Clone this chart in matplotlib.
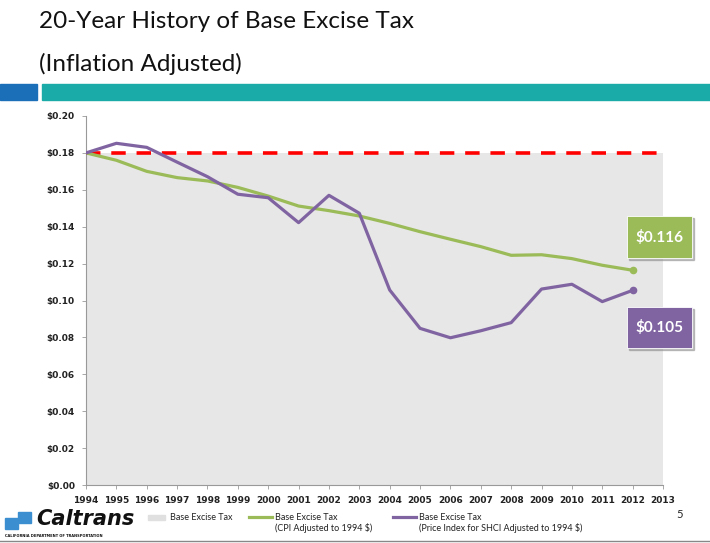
import matplotlib
matplotlib.use("Agg")
import matplotlib.pyplot as plt
from matplotlib.patches import Rectangle
from matplotlib.lines import Line2D
from matplotlib import font_manager

years = list(range(1994, 2014))
base_years = years
base_tax = [0.18] * 20
nominal_line = [0.18] * 20
cpi_years = list(range(1994, 2013))
cpi_adjusted = [0.180, 0.176, 0.170, 0.1666, 0.1648, 0.1613, 0.1566, 0.1512, 0.1487, 0.1458,
                0.1418, 0.1373, 0.1332, 0.1292, 0.1245, 0.1248, 0.1227, 0.1191, 0.1164]
shci_adjusted = [0.180, 0.1852, 0.1830, 0.1750, 0.1671, 0.1576, 0.1557, 0.1422, 0.1570, 0.1473,
                 0.1057, 0.0849, 0.0798, 0.0836, 0.0880, 0.1062, 0.1088, 0.0994, 0.1055]
yticks = [0.00, 0.02, 0.04, 0.06, 0.08, 0.10, 0.12, 0.14, 0.16, 0.18, 0.20]
title_lines = ["20-Year History of Base Excise Tax", "(Inflation Adjusted)"]
callouts = ["$0.116", "$0.105"]

GREEN = "#9bbb59"
PURPLE = "#8064a2"

names = {f.name for f in font_manager.fontManager.ttflist}
TITLE_FONT = "Liberation Sans Narrow" if "Liberation Sans Narrow" in names else "Lato"
TITLE_SIZE = 21 if TITLE_FONT == "Liberation Sans Narrow" else 17.5

W, H = 710, 543
fig = plt.figure(figsize=(W / 100, H / 100), dpi=100)

def fx(px):
    return px / W

def fy(py):
    return 1 - py / H

# Title
fig.text(fx(39), fy(22), title_lines[0], fontsize=TITLE_SIZE, family=TITLE_FONT, va="center", ha="left", color="#111111")
fig.text(fx(39), fy(64), title_lines[1], fontsize=TITLE_SIZE, family=TITLE_FONT, va="center", ha="left", color="#111111")

# Header bars
fig.patches.append(Rectangle((fx(0), fy(100)), fx(37), (100 - 84) / H, transform=fig.transFigure,
                             color="#1a6fb8", zorder=1))
fig.patches.append(Rectangle((fx(42), fy(100)), fx(710 - 42), (100 - 84) / H, transform=fig.transFigure,
                             color="#1aaba8", zorder=1))

# Axes
ax = fig.add_axes([fx(86), fy(485), fx(663 - 86), (485 - 116) / H])
ax.fill_between(base_years, 0, base_tax, color="#e7e7e7", zorder=1, linewidth=0)
ax.plot(years, nominal_line, color="#ff0000", linestyle=(0, (4, 3)), linewidth=2.6, zorder=3)
ax.plot(cpi_years, cpi_adjusted, color=GREEN, linewidth=2.3, zorder=4)
ax.plot(cpi_years, shci_adjusted, color=PURPLE, linewidth=2.3, zorder=5)
ax.plot([cpi_years[-1]], [cpi_adjusted[-1]], "o", color=GREEN, markersize=4.5, zorder=6)
ax.plot([cpi_years[-1]], [shci_adjusted[-1]], "o", color=PURPLE, markersize=4.5, zorder=6)

ax.set_xlim(1994, 2013)
ax.set_ylim(0, 0.20)
ax.set_yticks(yticks)
ax.set_yticklabels([f"${v:.2f}" for v in yticks], fontsize=6.5, fontweight="bold", color="#222222")
ax.set_xticks(years)
ax.set_xticklabels([str(y) for y in years], fontsize=6.5, fontweight="bold", color="#222222")
for s in ["top", "right"]:
    ax.spines[s].set_visible(False)
for s in ["left", "bottom"]:
    ax.spines[s].set_color("#999999")
    ax.spines[s].set_linewidth(0.8)
ax.tick_params(axis="both", length=3, width=0.6, color="#999999", pad=5)
ax.patch.set_alpha(0)

# Callouts
def callout(x0, y0, x1, y1, color, text):
    fig.patches.append(Rectangle((fx(x0 + 2), fy(y1 + 2)), fx(x1 - x0), (y1 - y0) / H,
                                 transform=fig.transFigure, color="#888888", alpha=0.5, zorder=8))
    fig.patches.append(Rectangle((fx(x0), fy(y1)), fx(x1 - x0), (y1 - y0) / H,
                                 transform=fig.transFigure, facecolor=color, edgecolor="white",
                                 linewidth=0.6, zorder=9))
    fig.text(fx((x0 + x1) / 2), fy((y0 + y1) / 2), text, fontsize=11, fontweight="bold",
             family="Lato", color="white", ha="center", va="center", zorder=10)

callout(627, 216, 692, 258, GREEN, callouts[0])
callout(627, 307, 692, 348, PURPLE, callouts[1])

# Legend
LF = 6.5
fig.patches.append(Rectangle((fx(148), fy(520)), fx(17), 5 / H, transform=fig.transFigure,
                             color="#e0e0e0", zorder=2))
fig.text(fx(170), fy(517), "Base Excise Tax", fontsize=LF, family="Lato", ha="left", va="center", color="#222222")
fig.lines.append(Line2D([fx(249), fx(272)], [fy(517), fy(517)], transform=fig.transFigure,
                        color=GREEN, linewidth=2.3))
fig.text(fx(275), fy(517), "Base Excise Tax", fontsize=LF, family="Lato", ha="left", va="center", color="#222222")
fig.text(fx(275), fy(528), "(CPI Adjusted to 1994 $)", fontsize=LF, family="Lato", ha="left", va="center", color="#222222")
fig.lines.append(Line2D([fx(393), fx(416)], [fy(517), fy(517)], transform=fig.transFigure,
                        color=PURPLE, linewidth=2.3))
fig.text(fx(419), fy(517), "Base Excise Tax", fontsize=LF, family="Lato", ha="left", va="center", color="#222222")
fig.text(fx(419), fy(528), "(Price Index for SHCI Adjusted to 1994 $)", fontsize=LF, family="Lato",
         ha="left", va="center", color="#222222")

# Page number
fig.text(fx(680), fy(515), "5", fontsize=8, family="Lato", ha="center", va="center", color="#222222")

# Logo (approximation)
fig.patches.append(Rectangle((fx(5), fy(529)), fx(13), 11 / H, transform=fig.transFigure, color="#3b8fd0", zorder=2))
fig.patches.append(Rectangle((fx(18), fy(523)), fx(13), 11 / H, transform=fig.transFigure, color="#3b8fd0", zorder=2))
fig.text(fx(36), fy(519), "Caltrans", fontsize=15, fontweight="heavy", style="italic", family="DejaVu Sans",
         ha="left", va="center", color="#111111")
fig.text(fx(5), fy(536), "CALIFORNIA DEPARTMENT OF TRANSPORTATION", fontsize=2.6, family="DejaVu Sans",
         ha="left", va="center", color="#111111", fontweight="bold")

# bottom rule
fig.lines.append(Line2D([0, 1], [fy(541), fy(541)], transform=fig.transFigure, color="#888888", linewidth=1))

fig.savefig("out.png", dpi=100)
